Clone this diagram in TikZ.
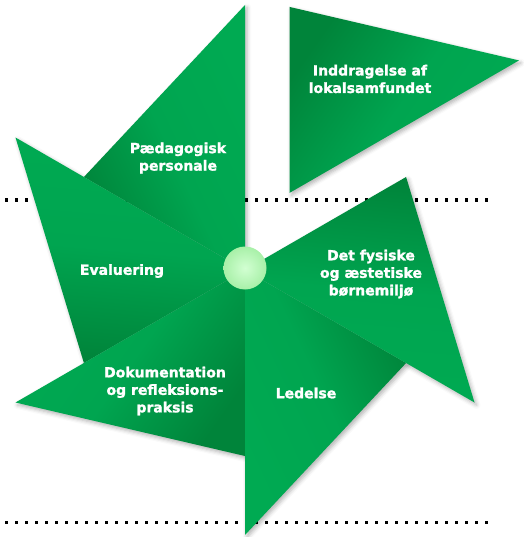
\documentclass[tikz,border=0pt]{standalone}
\usepackage{fontspec}
\setmainfont{DejaVu Sans}
\newfontfamily\lblfont{DejaVu Sans Bold}[FakeBold=1.6]
\usetikzlibrary{calc,shadows.blur}
\definecolor{gMain}{RGB}{0,165,80}
\definecolor{gDark}{RGB}{0,132,58}
\definecolor{gLight}{RGB}{0,170,82}
\definecolor{hubIn}{RGB}{210,255,210}
\definecolor{hubOut}{RGB}{168,240,168}
\tikzset{
  blade/.style={top color=gLight, bottom color=gDark, middle color=gMain, shading angle=#1},
  bladeshadow/.style={blur shadow={shadow xshift=2pt, shadow yshift=-2.5pt, shadow blur radius=4pt, shadow opacity=30}},
  lbl/.style={text=white, font=\lblfont\fontsize{14}{17.5}\selectfont, align=center, inner sep=0pt},
  dotline/.style={draw=black, line width=3pt, dash pattern=on 3pt off 7pt}
}
\begin{document}
\begin{tikzpicture}[x=1pt,y=-1pt]
\useasboundingbox (0,0) rectangle (523,537);
\coordinate (C) at (245,270);
\coordinate (C6) at ($(C)+(60:89pt)$);
\coordinate (T1) at ($(C)+(90:265pt)$);  \coordinate (V1) at ($(C)+(150:186pt)$);
\coordinate (T2) at ($(C)+(150:265pt)$); \coordinate (V2) at ($(C)+(210:186pt)$);
\coordinate (T3) at ($(C)+(210:265pt)$); \coordinate (V3) at ($(C)+(270:186pt)$);
\coordinate (T4) at ($(C)+(270:265pt)$); \coordinate (V4) at ($(C)+(330:186pt)$);
\coordinate (T5) at ($(C)+(330:265pt)$); \coordinate (V5) at ($(C)+(30:186pt)$);
\coordinate (T6) at ($(C6)+(30:265pt)$); \coordinate (V6) at ($(C6)+(90:186pt)$);
% dotted guide lines
\coordinate (La) at (5,200);  \coordinate (Lb) at (488,200);
\coordinate (Lc) at (5,522);  \coordinate (Ld) at (488,522);
\draw[dotline] (La) -- (Lb);
\draw[dotline] (Lc) -- (Ld);
% shadows
\foreach \c/\t/\v in {C/T1/V1, C/T2/V2, C/T3/V3, C/T4/V4, C/T5/V5, C6/T6/V6}
  \path[bladeshadow] (\c) -- (\t) -- (\v) -- cycle;
% blades
\shade[blade=-65]  (C) -- (T1) -- (V1) -- cycle;
\shade[blade=-5]   (C) -- (T2) -- (V2) -- cycle;
\shade[blade=55]   (C) -- (T3) -- (V3) -- cycle;
\shade[blade=115]  (C) -- (T4) -- (V4) -- cycle;
\shade[blade=175]  (C) -- (T5) -- (V5) -- cycle;
\shade[blade=-125] (C6) -- (T6) -- (V6) -- cycle;
% hub
\node[circle, minimum size=43pt, inner sep=0pt, inner color=hubIn, outer color=hubOut] (hub) at (245,268) {};
% labels
\node[lbl] (ped) at (178,158) {Pædagogisk\\personale};
\node[lbl] (ind) at (370,79) {Inddragelse af\\lokalsamfundet};
\node[lbl] (eva) at (122,271) {Evaluering};
\node[lbl] (fys) at (371,274) {Det fysiske\\og æstetiske\\børnemiljø};
\node[lbl] (led) at (306,393) {Ledelse};
\node[lbl] (dok) at (165,391) {Dokumentation\\og refleksions-\\praksis};
\end{tikzpicture}
\end{document}
